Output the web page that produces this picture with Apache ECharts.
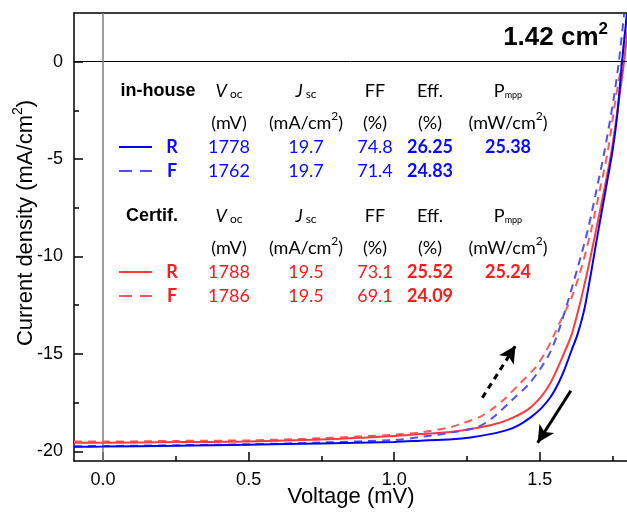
<!DOCTYPE html>
<html><head><meta charset="utf-8">
<script src="https://cdn.jsdelivr.net/npm/echarts@6/dist/echarts.min.js"></script>
<style>html,body{margin:0;padding:0;background:#fff}#c{width:627px;height:517px}</style>
</head><body><div id="c"></div>
<script>
// J-V data: [voltage, current density]
const inHouseR = [[-0.1,-19.77],[0,-19.76],[0.25,-19.72],[0.5,-19.66],[0.75,-19.6],[1.0,-19.52],[1.09,-19.46],[1.2,-19.38],[1.262,-19.29],[1.33,-19.12],[1.39,-18.9],[1.43,-18.64],[1.469,-18.26],[1.505,-17.8],[1.538,-17.2],[1.563,-16.55],[1.584,-15.85],[1.61,-14.8],[1.63,-14.0],[1.655,-12.6],[1.70,-8.8],[1.73,-6.3],[1.75,-4.6],[1.766,-2.8],[1.783,0],[1.80,2.5]];
const inHouseF = [[-0.1,-19.74],[0,-19.73],[0.25,-19.69],[0.5,-19.64],[0.75,-19.55],[1.0,-19.42],[1.09,-19.27],[1.2,-19.03],[1.285,-18.77],[1.337,-18.3],[1.41,-17.3],[1.46,-16.6],[1.503,-15.75],[1.535,-14.95],[1.561,-14.0],[1.596,-12.35],[1.63,-10.6],[1.666,-8.6],[1.695,-6.6],[1.72,-4.8],[1.752,-2.1],[1.772,0],[1.79,2.46]];
const certR = [[-0.1,-19.56],[0,-19.56],[0.25,-19.53],[0.5,-19.5],[0.75,-19.4],[1.0,-19.22],[1.09,-19.12],[1.2,-19.0],[1.297,-18.77],[1.36,-18.55],[1.41,-18.26],[1.46,-17.85],[1.503,-17.23],[1.535,-16.55],[1.561,-15.75],[1.587,-14.85],[1.61,-14.0],[1.637,-12.5],[1.665,-10.7],[1.693,-8.7],[1.72,-6.7],[1.748,-4.5],[1.772,-2.0],[1.79,0],[1.81,2.8]];
const certF = [[-0.1,-19.5],[0,-19.5],[0.25,-19.47],[0.5,-19.44],[0.75,-19.33],[1.0,-19.15],[1.09,-19.03],[1.193,-18.77],[1.228,-18.6],[1.297,-18.22],[1.34,-17.8],[1.38,-17.3],[1.43,-16.55],[1.486,-15.69],[1.52,-14.9],[1.547,-14.1],[1.575,-13.2],[1.61,-12.1],[1.645,-10.5],[1.676,-8.7],[1.705,-6.7],[1.734,-4.6],[1.76,-2.0],[1.782,0],[1.80,2.5]];

// arrows (voltage, current density)
const arrowForward = [[1.303,-17.25],[1.417,-14.58]];
const arrowReverse = [[1.607,-16.89],[1.493,-19.56]];

// tick values
const xMajor = [0, 0.5, 1.0, 1.5];
const xMinor = [0.25, 0.75, 1.25, 1.75];
const yMajor = [-20, -15, -10, -5, 0];
const yMinor = [-17.5, -12.5, -7.5, -2.5];

// table
const headers = ['{it|V}{sub| oc}', '{it|J}{sub| sc}', '{n|FF}', '{n|Eff.}', '{n|P}{tiny|mpp}'];
const units = ['{n|(mV)}', '{n|(mA/cm}{sup|2}{n|)}', '{n|(%)}', '{n|(%)}', '{n|(mW/cm}{sup|2}{n|)}'];
const inHouseRVals = ['1778', '19.7', '74.8', '26.25', '25.38'];
const inHouseFVals = ['1762', '19.7', '71.4', '24.83', ''];
const certRVals = ['1788', '19.5', '73.1', '25.52', '25.24'];
const certFVals = ['1786', '19.5', '69.1', '24.09', ''];

const BLUE = '#0000ff', BLUE_L = '#4f4fff', RED = '#ff3b3b', RED_L = '#ff5a5a';
const TBLUE = '#0a0aff', TRED = '#ff1a1a';
const colX = [229, 306, 375, 430, 508];
const TF = 'Lato';
const AF = 'Liberation Sans';

const chart = echarts.init(document.getElementById('c'));
const g = [];
function txt(x, y, text, opt) {
  opt = opt || {};
  g.push({
    type: 'text', x: x, y: y, rotation: opt.rotation || 0, z: 100,
    style: {
      text: text, align: opt.align || 'center', verticalAlign: 'middle',
      textAlign: opt.align || 'center', textVerticalAlign: 'middle',
      fill: opt.color || '#000', fontSize: opt.size || 18, fontFamily: opt.family || TF,
      fontWeight: opt.weight || 'normal',
      rich: {
        it: {fontStyle: 'italic', fontSize: 18, fontFamily: TF, fill: '#000', verticalAlign: 'bottom', lineHeight: 22},
        sub: {fontSize: 12, fontFamily: TF, fill: '#000', verticalAlign: 'bottom', lineHeight: 19},
        n: {fontSize: 18, fontFamily: TF, fill: '#000', verticalAlign: 'bottom', lineHeight: 22},
        sup: {fontSize: 12, fontFamily: TF, fill: '#000', verticalAlign: 'top', lineHeight: 15},
        tiny: {fontSize: 9, fontFamily: TF, fill: '#000', verticalAlign: 'bottom', lineHeight: 17},
        b: {fontSize: 26, fontFamily: AF, fontWeight: 'bold', fill: '#000', verticalAlign: 'bottom', lineHeight: 30},
        s: {fontSize: 17, fontFamily: AF, fontWeight: 'bold', fill: '#000', verticalAlign: 'top', lineHeight: 20},
        a: {fontSize: 22, fontFamily: AF, fill: '#000', verticalAlign: 'bottom', lineHeight: 26},
        as: {fontSize: 14, fontFamily: AF, fill: '#000', verticalAlign: 'top', lineHeight: 16}
      }
    }
  });
}
function seg(x1, x2, y, color, dash) {
  g.push({type: 'line', z: 100, shape: {x1: x1, y1: y, x2: x2, y2: y},
    style: {stroke: color, lineWidth: 2, lineDash: dash || null}});
}
function block(y0, title, rVals, fVals, colR, colF, lineR, lineF) {
  txt(title === 'in-house' ? 158 : 152, y0, title, {family: AF, weight: 'bold', size: 18});
  headers.forEach((h, i) => txt(colX[i], y0 - 2, h));
  units.forEach((u, i) => txt(colX[i], y0 + 30, u));
  seg(119, 152, y0 + 56, lineR);
  seg(119, 152, y0 + 80, lineF, [13, 8]);
  txt(172, y0 + 56, 'R', {color: colR, weight: 'bold'});
  txt(172, y0 + 80, 'F', {color: colF, weight: 'bold'});
  rVals.forEach((v, i) => txt(colX[i], y0 + 56, v, {color: colR, weight: i >= 3 ? 'bold' : 'normal'}));
  fVals.forEach((v, i) => txt(colX[i], y0 + 80, v, {color: colF, weight: i >= 3 ? 'bold' : 'normal'}));
}
block(91, 'in-house', inHouseRVals, inHouseFVals, TBLUE, TBLUE, BLUE, BLUE_L);
block(216, 'Certif.', certRVals, certFVals, TRED, TRED, RED, RED_L);
txt(608, 36, '{b|1.42 cm}{s|2}', {align: 'right'});
txt(351, 497, 'Voltage (mV)', {family: AF, size: 22});
txt(24, 223, '{a|Current density (mA/cm}{as|2}{a|)}', {family: AF, size: 22, rotation: Math.PI / 2});

const axisBase = {type: 'value', splitLine: {show: false}};
const lineSeries = (name, data, color, dashed, z) => ({
  name: name, type: 'line', data: data, showSymbol: false, smooth: 0.3, z: z,
  lineStyle: {color: color, width: 2, type: dashed ? [8, 6] : 'solid'}
});
const sCF = lineSeries('Certif. F', certF, RED_L, true, 2);
sCF.markLine = {silent: true, symbol: 'none', label: {show: false}, animation: false,
  data: [
    {yAxis: 0, lineStyle: {color: '#000', width: 1, type: 'solid'}},
    {xAxis: 0, lineStyle: {color: '#808080', width: 1.5, type: 'solid'}}
  ]};
const sIR = lineSeries('in-house R', inHouseR, BLUE, false, 5);
sIR.markLine = {silent: true, symbol: ['none', 'arrow'], symbolSize: [13, 17], label: {show: false}, animation: false,
  data: [
    [{coord: arrowForward[0], lineStyle: {color: '#000', width: 3, type: [6, 5]}}, {coord: arrowForward[1]}],
    [{coord: arrowReverse[0], lineStyle: {color: '#000', width: 3, type: 'solid'}}, {coord: arrowReverse[1]}]
  ]};

const option = {
  animation: false,
  backgroundColor: '#fff',
  grid: {left: 74, right: 0, top: 13, bottom: 56, containLabel: false, outerBoundsMode: 'none'},
  xAxis: [
    Object.assign({}, axisBase, {min: -0.1, max: 1.8, position: 'bottom',
      axisLine: {show: true, onZero: false, lineStyle: {color: '#000', width: 1.5}},
      axisTick: {show: true, inside: true, length: 9, customValues: xMajor, lineStyle: {color: '#000', width: 1.5}},
      axisLabel: {show: true, customValues: xMajor, formatter: v => v.toFixed(1), fontSize: 18, fontFamily: AF, color: '#000', margin: 10}}),
    Object.assign({}, axisBase, {min: -0.1, max: 1.8, position: 'bottom',
      axisLine: {show: false, onZero: false},
      axisTick: {show: true, inside: true, length: 5, customValues: xMinor, lineStyle: {color: '#000', width: 1.5}},
      axisLabel: {show: false}}),
    Object.assign({}, axisBase, {min: -0.1, max: 1.8, position: 'top',
      axisLine: {show: true, onZero: false, lineStyle: {color: '#000', width: 1.5}},
      axisTick: {show: false}, axisLabel: {show: false}})
  ],
  yAxis: [
    Object.assign({}, axisBase, {min: -20.5, max: 2.5, position: 'left',
      axisLine: {show: true, onZero: false, lineStyle: {color: '#000', width: 1.5}},
      axisTick: {show: true, inside: true, length: 9, customValues: yMajor, lineStyle: {color: '#000', width: 1.5}},
      axisLabel: {show: true, customValues: yMajor, formatter: v => String(v), fontSize: 18, fontFamily: AF, color: '#000', margin: 11}}),
    Object.assign({}, axisBase, {min: -20.5, max: 2.5, position: 'left',
      axisLine: {show: false, onZero: false},
      axisTick: {show: true, inside: true, length: 5, customValues: yMinor, lineStyle: {color: '#000', width: 1.5}},
      axisLabel: {show: false}})
  ],
  series: [
    sCF,
    lineSeries('Certif. R', certR, RED, false, 3),
    lineSeries('in-house F', inHouseF, BLUE_L, true, 4),
    sIR
  ],
  graphic: {elements: g}
};
chart.setOption(option);
</script>
</body></html>
